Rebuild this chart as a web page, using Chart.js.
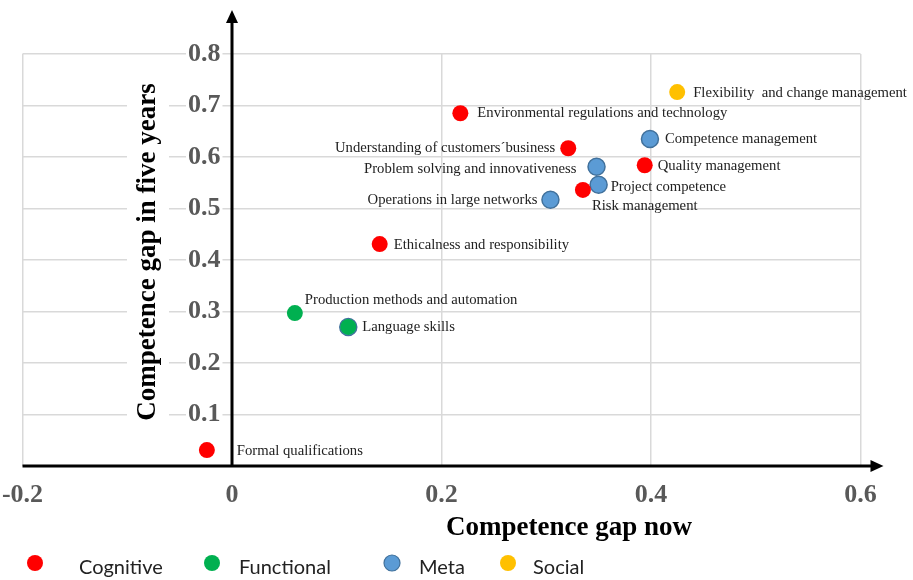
<!DOCTYPE html>
<html>

<head>
    <title>Competence gaps</title>
    <script src="https://cdn.jsdelivr.net/npm/chart.js"></script>
    <style>
        body { margin: 0; background: #fff; }
        #wrap { position: relative; width: 913px; height: 580px; }
    </style>
</head>

<body>
    <div id="wrap"><canvas id="gapChart"></canvas></div>

    <script>
        // categories (legend order)
        const categories = ['Cognitive', 'Functional', 'Meta', 'Social'];

        // series: competence names, gap now (x), gap in five years (y)
        const cognitiveNames = ['Formal qualifications', 'Ethicalness and responsibility',
            'Environmental regulations and technology', 'Understanding of customers´business',
            'Risk management', 'Quality management'];
        const cognitiveX = [-0.024, 0.141, 0.218, 0.321, 0.335, 0.394];
        const cognitiveY = [0.031, 0.431, 0.685, 0.617, 0.536, 0.584];

        const functionalNames = ['Production methods and automation', 'Language skills'];
        const functionalX = [0.060, 0.111];
        const functionalY = [0.297, 0.270];

        const metaNames = ['Language skills', 'Operations in large networks',
            'Problem solving and innovativeness', 'Project competence', 'Competence management'];
        const metaX = [0.111, 0.304, 0.348, 0.350, 0.399];
        const metaY = [0.270, 0.517, 0.581, 0.546, 0.635];

        const socialNames = ['Flexibility  and change management'];
        const socialX = [0.425];
        const socialY = [0.726];

        // tick labels
        const xTicks = [-0.2, 0, 0.2, 0.4, 0.6];
        const yTicks = [0.1, 0.2, 0.3, 0.4, 0.5, 0.6, 0.7, 0.8];

        const xTitle = 'Competence gap now';
        const yTitle = 'Competence gap in five years';

        // styling
        const colors = ['#ff0000', '#00b050', '#5b9bd5', '#ffc000'];
        const serif = '"Liberation Serif", "Times New Roman", serif';

        // where each point's label sits relative to its dot
        const labelPlacement = {
            'Formal qualifications': ['left', 30, 1],
            'Production methods and automation': ['left', 10, -13],
            'Language skills': ['left', 14, 0],
            'Ethicalness and responsibility': ['left', 14, 1],
            'Environmental regulations and technology': ['left', 17, 0],
            'Understanding of customers´business': ['right', -13, 0],
            'Operations in large networks': ['right', -13, 0],
            'Risk management': ['left', 9, 16],
            'Problem solving and innovativeness': ['right', -20, 2],
            'Project competence': ['left', 12, 2],
            'Quality management': ['left', 13, 1],
            'Competence management': ['left', 15, 0],
            'Flexibility  and change management': ['left', 16, 1]
        };

        function points(xs, ys) {
            return xs.map((x, i) => ({ x: x, y: ys[i] }));
        }

        const seriesNames = [cognitiveNames, functionalNames, metaNames, socialNames];
        const seriesData = [
            points(cognitiveX, cognitiveY),
            points(functionalX, functionalY),
            points(metaX, metaY),
            points(socialX, socialY)
        ];

        const datasets = categories.map((cat, i) => ({
            label: cat,
            names: seriesNames[i],
            data: seriesData[i],
            backgroundColor: colors[i],
            borderColor: cat === 'Meta' ? '#41719c' : colors[i],
            borderWidth: cat === 'Meta' ? 1.5 : 0,
            pointRadius: cat === 'Meta' ? 8.5 : 8
        }));

        // no extra room for the edge tick labels
        function noPadding(s) {
            s.paddingLeft = 0;
            s.paddingRight = 0;
            s.paddingTop = 0;
            s.paddingBottom = 0;
        }

        // axes with arrows, y title with white box, x title
        const axesPlugin = {
            id: 'axesPlugin',
            beforeDatasetsDraw(chart) {
                const { ctx, chartArea } = chart;
                const x0 = chart.scales.x.getPixelForValue(0);
                const y0 = chart.scales.y.getPixelForValue(0);
                const yTop = chartArea.top - 44;
                const xEnd = chartArea.right + 23;

                ctx.save();
                // y title
                const ty = (chartArea.top + chartArea.bottom) / 2 - 8;
                const tx = x0 - 84;
                ctx.fillStyle = '#fff';
                ctx.fillRect(tx - 21, ty - 172, 42, 344);
                ctx.translate(tx, ty);
                ctx.rotate(-Math.PI / 2);
                ctx.fillStyle = '#000';
                ctx.font = 'bold 27px ' + serif;
                ctx.textAlign = 'center';
                ctx.textBaseline = 'middle';
                ctx.fillText(yTitle, 0, 0);
                ctx.restore();

                ctx.save();
                ctx.strokeStyle = '#000';
                ctx.fillStyle = '#000';
                ctx.lineWidth = 3;
                ctx.beginPath();
                ctx.moveTo(x0, y0);
                ctx.lineTo(x0, yTop + 10);
                ctx.moveTo(chartArea.left, y0);
                ctx.lineTo(xEnd - 10, y0);
                ctx.stroke();
                ctx.beginPath();
                ctx.moveTo(x0, yTop);
                ctx.lineTo(x0 - 6, yTop + 13);
                ctx.lineTo(x0 + 6, yTop + 13);
                ctx.closePath();
                ctx.fill();
                ctx.beginPath();
                ctx.moveTo(xEnd, y0);
                ctx.lineTo(xEnd - 13, y0 - 6);
                ctx.lineTo(xEnd - 13, y0 + 6);
                ctx.closePath();
                ctx.fill();

                // x title
                ctx.font = 'bold 27px ' + serif;
                ctx.textAlign = 'center';
                ctx.textBaseline = 'middle';
                ctx.fillText(xTitle, 569, chartArea.bottom + 62);
                ctx.restore();
            },
            afterDatasetsDraw(chart) {
                const ctx = chart.ctx;
                const done = {};
                ctx.save();
                ctx.font = '14.7px ' + serif;
                ctx.fillStyle = '#222';
                ctx.textBaseline = 'middle';
                chart.data.datasets.forEach((ds, i) => {
                    const meta = chart.getDatasetMeta(i);
                    meta.data.forEach((pt, j) => {
                        const name = ds.names[j];
                        if (done[name]) return;
                        done[name] = true;
                        const p = labelPlacement[name];
                        ctx.textAlign = p[0];
                        ctx.fillText(name, pt.x + p[1], pt.y + p[2]);
                    });
                });
                ctx.restore();
            },
            afterDraw(chart) {
                // legend row along the bottom
                const ctx = chart.ctx;
                const dotX = [35, 212, 392, 508];
                const textX = [79, 239, 419, 533];
                const y = chart.chartArea.bottom + 102;
                ctx.save();
                ctx.font = '20px Lato, "Open Sans", sans-serif';
                ctx.textBaseline = 'middle';
                ctx.textAlign = 'left';
                chart.data.datasets.forEach((ds, i) => {
                    ctx.beginPath();
                    ctx.arc(dotX[i], y - 5, 8, 0, Math.PI * 2);
                    ctx.fillStyle = ds.backgroundColor;
                    ctx.fill();
                    if (ds.borderWidth) {
                        ctx.lineWidth = 1.2;
                        ctx.strokeStyle = ds.borderColor;
                        ctx.stroke();
                    }
                    ctx.fillStyle = '#222';
                    ctx.fillText(ds.label, textX[i], y);
                });
                ctx.restore();
            }
        };

        const gapChart = new Chart(document.getElementById('gapChart'), {
            type: 'scatter',
            data: { datasets: datasets },
            options: {
                responsive: true,
                maintainAspectRatio: false,
                animation: false,
                layout: { padding: { left: 22.5, right: 52.5, top: 54, bottom: 114 } },
                plugins: {
                    legend: { display: false },
                    tooltip: { enabled: false }
                },
                elements: { point: { hoverRadius: 8 } },
                scales: {
                    x: {
                        type: 'linear',
                        position: { y: 0 },
                        min: -0.2,
                        max: 0.6,
                        afterBuildTicks: (s) => { s.ticks = xTicks.map(v => ({ value: v })); },
                        afterFit: noPadding,
                        grid: { color: '#d9d9d9', lineWidth: 1.5, drawTicks: false },
                        border: { display: false },
                        ticks: {
                            padding: 14,
                            color: '#595959',
                            font: { family: serif, size: 26, weight: 'bold' },
                            callback: (v) => String(v)
                        }
                    },
                    y: {
                        type: 'linear',
                        // labels sit just left of the x = 0 axis line
                        position: { x: -0.011 },
                        min: 0,
                        max: 0.8,
                        afterBuildTicks: (s) => { s.ticks = yTicks.map(v => ({ value: v })); },
                        afterFit: noPadding,
                        grid: { color: '#d9d9d9', lineWidth: 1.5, drawTicks: false },
                        border: { display: false },
                        ticks: {
                            color: '#595959',
                            font: { family: serif, size: 26, weight: 'bold' },
                            showLabelBackdrop: true,
                            backdropColor: '#fff',
                            backdropPadding: { x: 2, y: 0 },
                            callback: (v) => v.toFixed(1)
                        }
                    }
                }
            },
            plugins: [axesPlugin]
        });
    </script>
</body>

</html>
